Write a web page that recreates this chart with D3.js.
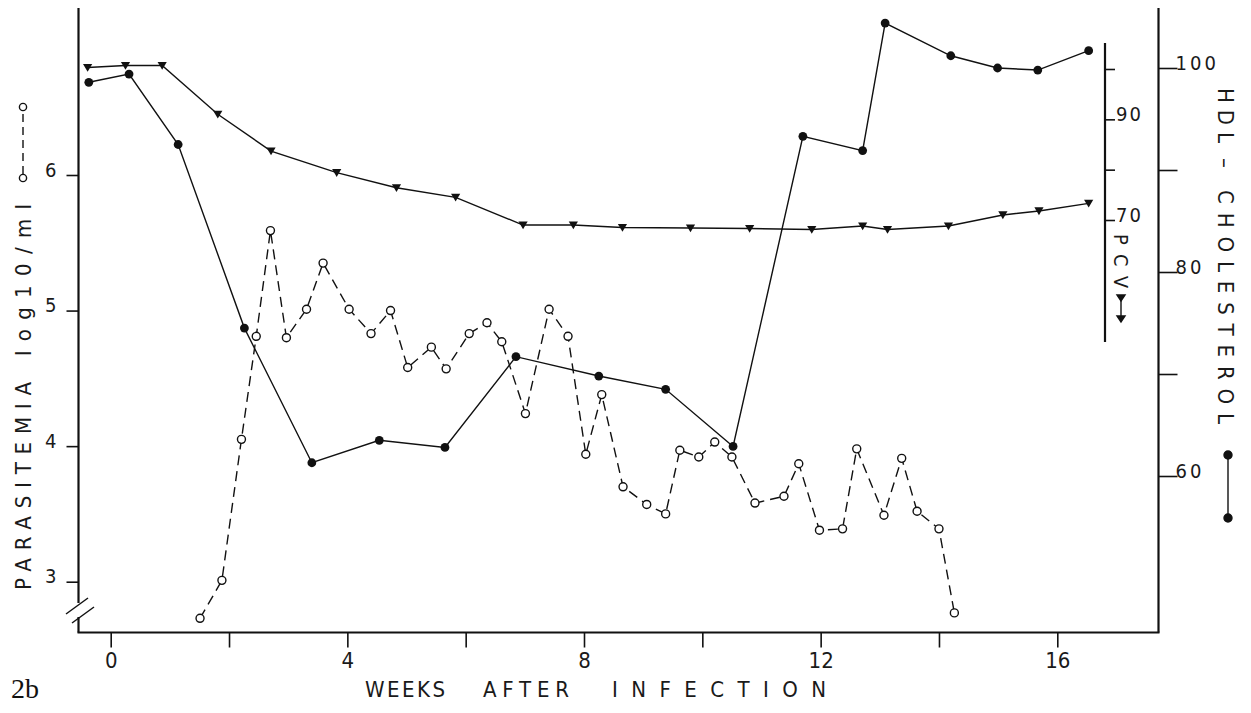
<!DOCTYPE html>
<html>
<head>
<meta charset="utf-8">
<script src="https://cdn.jsdelivr.net/npm/d3@7/dist/d3.min.js"></script>
<style>
    body { margin: 0; background: #fff; }
    svg { display: block; }
    .lbl { font-family: "DejaVu Sans Condensed", "DejaVu Sans", sans-serif; fill: #1a1a1a; }
</style>
</head>
<body>
<svg id="chart" width="1251" height="713"></svg>
<script>
    'use strict';

    // weeks after infection (x) for each series
    const parasiteWeeks = [1.51, 1.88, 2.21, 2.46, 2.70, 2.97, 3.31, 3.59, 4.03, 4.40, 4.73, 5.02,
        5.42, 5.67, 6.06, 6.36, 6.61, 7.01, 7.41, 7.73, 8.03, 8.30, 8.66, 9.06, 9.38, 9.62,
        9.94, 10.21, 10.50, 10.89, 11.38, 11.63, 11.98, 12.37, 12.61, 13.07, 13.37, 13.63, 14.00, 14.26];
    // parasitemia, log10/ml
    const parasiteValues = [2.73, 3.01, 4.05, 4.81, 5.59, 4.80, 5.01, 5.35, 5.01, 4.83, 5.00, 4.58,
        4.73, 4.57, 4.83, 4.91, 4.77, 4.24, 5.01, 4.81, 3.94, 4.38, 3.70, 3.57, 3.50, 3.97,
        3.92, 4.03, 3.92, 3.58, 3.63, 3.87, 3.38, 3.39, 3.98, 3.49, 3.91, 3.52, 3.39, 2.77];

    const hdlWeeks = [-0.37, 0.31, 1.14, 2.26, 3.40, 4.54, 5.65, 6.85, 8.25, 9.38, 10.52,
        11.70, 12.71, 13.09, 14.20, 14.99, 15.67, 16.53];
    const hdlValues = [98.6, 99.4, 92.5, 74.5, 61.3, 63.5, 62.8, 71.7, 69.8, 68.5, 62.9,
        93.3, 91.9, 104.4, 101.2, 100.0, 99.8, 101.7];

    const pcvWeeks = [-0.39, 0.25, 0.87, 1.81, 2.71, 3.82, 4.83, 5.83, 6.97, 7.82, 8.65,
        9.80, 10.80, 11.85, 12.71, 13.13, 14.16, 15.08, 15.69, 16.53];
    const pcvValues = [100.3, 100.7, 100.7, 91.0, 83.7, 79.4, 76.4, 74.5, 69.0, 69.0, 68.5,
        68.4, 68.3, 68.1, 68.8, 68.1, 68.8, 71.0, 71.8, 73.3];

    const weekTicks = [0, 2, 4, 6, 8, 10, 12, 14, 16];
    const weekLabels = ['0', '', '4', '', '8', '', '12', '', '16'];
    const parasiteTicks = [3, 4, 5, 6];
    const hdlTicks = [60, 70, 80, 90, 100];
    const hdlLabels = ['60', '', '80', '', '100'];
    const pcvTicks = [70, 80, 90, 100];
    const pcvLabels = ['70', '', '90', ''];

    let svg = d3.select('#chart'),
        // frame
        leftX = 78.5,
        rightX = 1158.5,
        pcvX = 1105,
        bottomY = 632.5,
        topY = 8,
        axisStroke = 2.2,
        lineStroke = 1.4,
        ink = '#111',

        x = d3.scaleLinear().domain([0, 16]).range([110.7, 1057.3]),
        yPar = d3.scaleLinear().domain([3, 6]).range([581.7, 175]),
        yHdl = d3.scaleLinear().domain([60, 100]).range([476, 68]),
        yPcv = d3.scaleLinear().domain([70, 100]).range([220, 69]);

    /**
     * Strips the default d3 domain path and styles tick lines / labels
     */
    function tidyAxis(g) {
        g.select('.domain').remove();
        g.selectAll('.tick line').attr('stroke', ink).attr('stroke-width', 1.6);
        g.selectAll('.tick text')
            .attr('class', 'lbl')
            .style('font-family', null)
            .attr('fill', '#1a1a1a');
    }

    /**
     * Writes one spaced-out word, stretched to the given length
     */
    function word(transform, text, length, size = 22) {
        svg.append('text')
            .attr('class', 'lbl')
            .attr('transform', transform)
            .attr('textLength', length)
            .attr('lengthAdjust', 'spacing')
            .style('font-size', `${size}px`)
            .text(text);
    }

    // ---- axes lines
    let frame = svg.append('g').attr('fill', 'none').attr('stroke', ink).attr('stroke-width', axisStroke);

    frame.append('line').attr('x1', leftX).attr('x2', leftX).attr('y1', topY).attr('y2', 603);
    frame.append('line').attr('x1', leftX).attr('x2', leftX).attr('y1', 617).attr('y2', bottomY);
    frame.append('line').attr('x1', leftX - 1).attr('x2', rightX + 1).attr('y1', bottomY).attr('y2', bottomY);
    frame.append('line').attr('x1', rightX).attr('x2', rightX).attr('y1', topY).attr('y2', bottomY);
    frame.append('line').attr('x1', pcvX).attr('x2', pcvX).attr('y1', 43).attr('y2', 342);

    // axis break
    frame.append('line').attr('x1', 66).attr('y1', 614).attr('x2', 88).attr('y2', 598).attr('stroke-width', 1.5);
    frame.append('line').attr('x1', 72).attr('y1', 623).attr('x2', 94).attr('y2', 607).attr('stroke-width', 1.5);

    // ---- bottom axis
    svg.append('g')
        .attr('transform', `translate(0,${bottomY})`)
        .call(d3.axisBottom(x).tickValues(weekTicks).tickSize(15).tickSizeOuter(0)
            .tickFormat((d, i) => weekLabels[i]))
        .call(tidyAxis)
        .call(g => g.selectAll('.tick text').attr('y', 20).attr('dy', '0.71em').style('font-size', '22px'));

    // ---- left axis (parasitemia)
    svg.append('g')
        .attr('transform', `translate(${leftX},0)`)
        .call(d3.axisLeft(yPar).tickValues(parasiteTicks).tickSize(12).tickSizeOuter(0).tickFormat(d3.format('d')))
        .call(tidyAxis)
        .call(g => g.selectAll('.tick text').attr('x', -22).attr('dy', '0.05em').style('font-size', '20px'));

    // ---- right axis (HDL cholesterol)
    svg.append('g')
        .attr('transform', `translate(${rightX},0)`)
        .call(d3.axisRight(yHdl).tickValues(hdlTicks).tickSize(19).tickSizeOuter(0)
            .tickFormat((d, i) => hdlLabels[i]))
        .call(tidyAxis)
        .call(g => g.selectAll('.tick text').attr('x', 17).attr('dy', '0.05em')
            .style('font-size', '20px').style('letter-spacing', '3px'));

    // ---- inner right axis (PCV)
    svg.append('g')
        .attr('transform', `translate(${pcvX},0)`)
        .call(d3.axisRight(yPcv).tickValues(pcvTicks).tickSize(10).tickSizeOuter(0)
            .tickFormat((d, i) => pcvLabels[i]))
        .call(tidyAxis)
        .call(g => g.selectAll('.tick text').attr('x', 11).attr('dy', '0.05em')
            .style('font-size', '20px').style('letter-spacing', '2px'));

    // ---- series
    let series = svg.append('g').attr('fill', 'none').attr('stroke', ink).attr('stroke-width', lineStroke);

    let parasiteData = parasiteWeeks.map((w, i) => [w, parasiteValues[i]]),
        hdlData = hdlWeeks.map((w, i) => [w, hdlValues[i]]),
        pcvData = pcvWeeks.map((w, i) => [w, pcvValues[i]]);

    series.append('path')
        .attr('stroke-dasharray', '10,6')
        .attr('d', d3.line().x(d => x(d[0])).y(d => yPar(d[1]))(parasiteData));

    series.append('path')
        .attr('d', d3.line().x(d => x(d[0])).y(d => yPcv(d[1]))(pcvData));

    series.append('path')
        .attr('d', d3.line().x(d => x(d[0])).y(d => yHdl(d[1]))(hdlData));

    let triangle = 'M-4.6,-3.6L4.6,-3.6L0,4.2Z';

    svg.append('g').selectAll('circle')
        .data(parasiteData)
        .join('circle')
        .attr('cx', d => x(d[0]))
        .attr('cy', d => yPar(d[1]))
        .attr('r', 4)
        .attr('fill', '#fff')
        .attr('stroke', ink)
        .attr('stroke-width', 1.4);

    svg.append('g').selectAll('path')
        .data(pcvData)
        .join('path')
        .attr('transform', d => `translate(${x(d[0])},${yPcv(d[1])})`)
        .attr('d', triangle)
        .attr('fill', ink);

    svg.append('g').selectAll('circle')
        .data(hdlData)
        .join('circle')
        .attr('cx', d => x(d[0]))
        .attr('cy', d => yHdl(d[1]))
        .attr('r', 4.4)
        .attr('fill', ink);

    // ---- titles
    word('translate(365,697)', 'WEEKS', 80);
    word('translate(483,697)', 'AFTER', 86);
    word('translate(612,697)', 'INFECTION', 214);

    svg.append('text')
        .attr('x', 11).attr('y', 698)
        .style('font-family', '"Liberation Serif", "DejaVu Serif", serif')
        .style('font-size', '28px')
        .attr('fill', '#111')
        .text('2b');

    word('translate(31,590) rotate(-90)', 'PARASITEMIA', 208);
    word('translate(31,356) rotate(-90)', 'log10/ml', 152);

    word('translate(1218,88) rotate(90)', 'HDL', 55);
    word('translate(1218,158) rotate(90)', '–', 14);
    word('translate(1218,190) rotate(90)', 'CHOLESTEROL', 234);

    word('translate(1114,234) rotate(90)', 'PCV', 54, 20);

    // ---- legend keys
    let keys = svg.append('g').attr('stroke', ink).attr('stroke-width', 1.4);

    keys.append('line').attr('x1', 23).attr('x2', 23).attr('y1', 174).attr('y2', 112)
        .attr('stroke-dasharray', '8,5');
    keys.append('circle').attr('cx', 23).attr('cy', 178).attr('r', 3.6).attr('fill', '#fff');
    keys.append('circle').attr('cx', 23).attr('cy', 107).attr('r', 3.6).attr('fill', '#fff');

    keys.append('line').attr('x1', 1228).attr('x2', 1228).attr('y1', 455).attr('y2', 518);
    keys.append('circle').attr('cx', 1228).attr('cy', 455).attr('r', 4).attr('fill', ink);
    keys.append('circle').attr('cx', 1228).attr('cy', 518).attr('r', 4).attr('fill', ink);

    keys.append('line').attr('x1', 1121).attr('x2', 1121).attr('y1', 297).attr('y2', 318);
    keys.append('path').attr('d', 'M1117,295L1125,295L1121,301Z').attr('fill', ink);
    keys.append('path').attr('d', 'M1117,316L1125,316L1121,322Z').attr('fill', ink);
</script>
</body>
</html>
